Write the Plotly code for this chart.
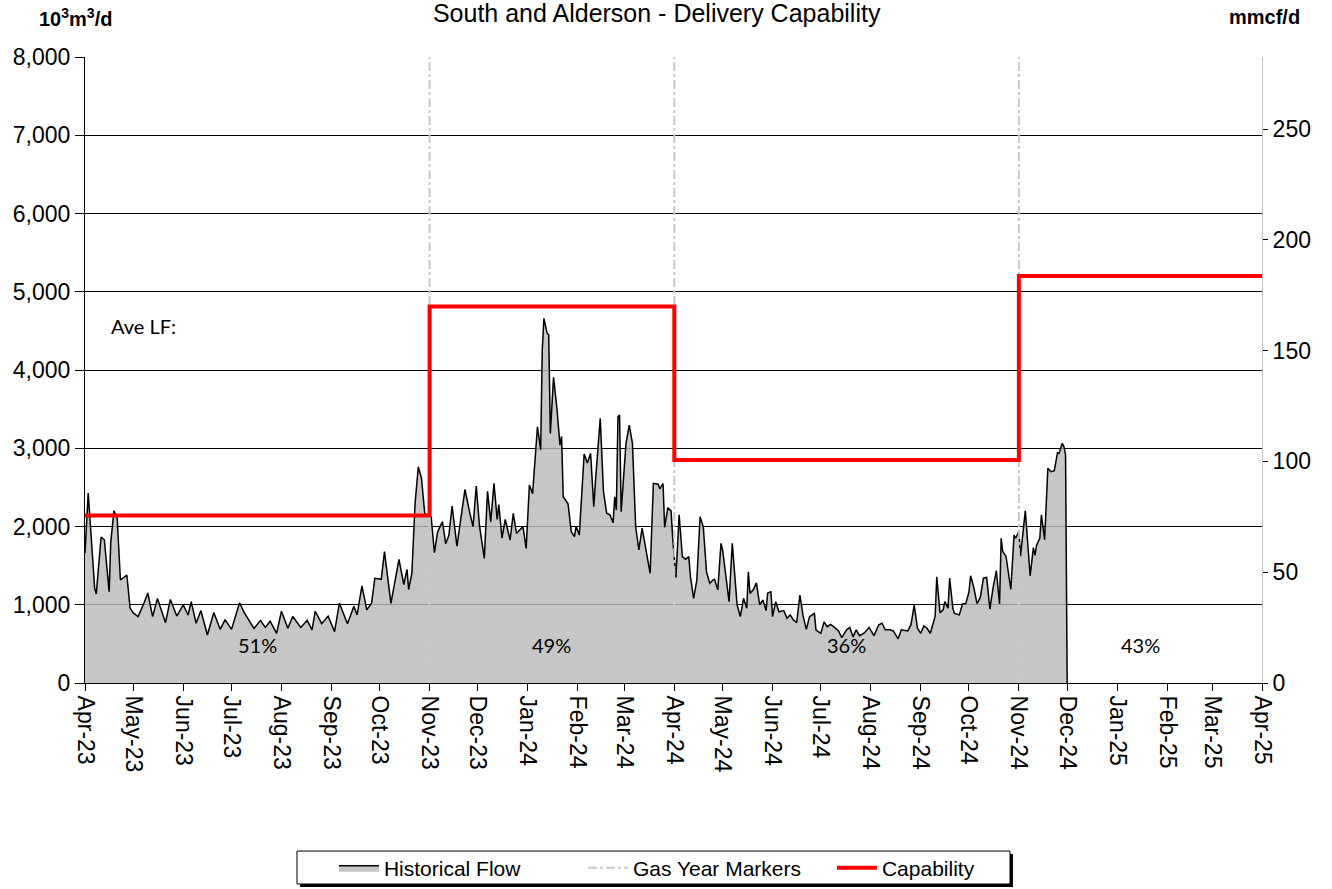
"""South and Alderson delivery capability chart."""

import pandas as pd
import plotly.graph_objects as go

START = pd.Timestamp("2023-04-01")
M3_PER_MMCF = 28.3168

# historical flow, 10^3 m3/d (days counted from 1 Apr 2023)
flow_day = [
    0, 2, 6, 7, 10, 12, 15, 16, 18, 20, 22, 26, 28, 30, 33, 35, 37, 39, 42, 45,
    50, 53, 57, 61, 64, 66, 69, 72, 76, 80, 84, 87, 91, 96, 99, 103, 105, 109, 112, 115,
    119, 122, 126, 129, 134, 138, 141, 143, 147, 151, 155, 158, 163, 167, 169, 172, 175, 178, 180, 184,
    186, 190, 195, 198, 200, 201, 203, 205, 207, 209, 211, 213, 215, 217, 219, 222, 224, 226, 228, 231,
    233, 236, 239, 241, 243, 245, 248, 250, 252, 254, 256, 257, 259, 261, 264, 266, 268, 270, 272, 274,
    276, 278, 281, 283, 284, 285, 287, 288, 289, 291, 293, 295, 296, 297, 300, 302, 304, 305, 307, 310,
    312, 314, 316, 317, 320, 322, 324, 326, 328, 329, 330, 331, 332, 333, 336, 338, 340, 342, 344, 346,
    349, 351, 353, 356, 357, 359, 360, 362, 364, 365, 367, 369, 371, 373, 375, 376, 378, 380, 382, 384,
    386, 388, 390, 391, 393, 395, 396, 400, 402, 405, 407, 409, 411, 412, 413, 415, 417, 419, 421, 423,
    424, 426, 427, 429, 431, 434, 436, 438, 440, 442, 444, 446, 448, 450, 453, 454, 457, 459, 461, 463,
    465, 468, 470, 473, 475, 477, 479, 481, 484, 487, 490, 493, 495, 497, 500, 502, 505, 507, 511, 513,
    515, 517, 519, 521, 523, 525, 528, 529, 531, 533, 534, 536, 537, 539, 540, 543, 545, 547, 549, 550,
    552, 554, 556, 558, 560, 562, 564, 566, 568, 569, 570, 572, 575, 577, 578, 580, 581, 584, 587, 589,
    590, 591, 593, 594, 596, 598, 600, 602, 604, 605, 607, 608, 609, 610,
]
flow_value = [
    1660, 2427, 1210, 1137, 1866, 1830, 1167, 1800, 2202, 2100, 1316, 1380, 958, 895, 848, 940, 1039, 1150, 848, 1080,
    771, 1067, 856, 1000, 869, 1039, 763, 925, 613, 900, 685, 810, 685, 1025, 895, 763, 698, 800, 710, 790,
    635, 917, 700, 850, 710, 800, 680, 917, 758, 855, 656, 1020, 758, 980, 870, 1240, 935, 1020, 1338, 1325,
    1678, 1018, 1580, 1257, 1453, 1195, 1400, 2296, 2764, 2615, 2168, 2146, 2125, 1665, 1930, 2062, 1780, 1887, 2262, 1750,
    2040, 2475, 2170, 2000, 2518, 2010, 1593, 2450, 2060, 2552, 2090, 2280, 1850, 2090, 1827, 2168, 1910, 1950, 2000, 1720,
    2530, 2420, 3275, 2980, 4255, 4660, 4470, 4450, 3190, 3906, 3530, 3040, 3150, 2380, 2290, 1934, 1870, 2000, 1890, 2926,
    2810, 2935, 2253, 2570, 3382, 2445, 2170, 2150, 2049, 2380, 2210, 3403, 3425, 2190, 3063, 3297, 3063, 2000, 1700, 1980,
    1660, 1402, 2552, 2540, 2480, 2550, 1990, 2240, 2200, 1850, 1350, 2150, 1615, 1580, 1615, 1360, 1082, 1316, 2125, 1995,
    1420, 1275, 1316, 1325, 1190, 1785, 1700, 1040, 1785, 1000, 848, 1082, 955, 1420, 1145, 1190, 1280, 1000, 1060, 925,
    1150, 1165, 848, 1040, 910, 925, 828, 870, 806, 770, 1124, 857, 686, 848, 890, 677, 635, 780, 720, 750,
    720, 665, 580, 680, 710, 590, 680, 605, 640, 710, 605, 745, 765, 680, 680, 665, 565, 680, 665, 745,
    995, 700, 635, 730, 700, 635, 850, 1358, 900, 935, 1040, 955, 1340, 955, 890, 870, 1010, 1015, 1160, 1370,
    1220, 1015, 1090, 1340, 1350, 945, 1220, 1435, 1010, 1850, 1680, 1620, 1195, 1890, 1850, 1935, 1620, 2202, 1370, 1730,
    1630, 1760, 1850, 2150, 1830, 2744, 2700, 2713, 2943, 2935, 3063, 3020, 2914, 0,
]

# delivery capability steps, 10^3 m3/d
cap_start = ["2023-04-01", "2023-11-01", "2024-04-01", "2024-11-01", "2025-04-01"]
cap_value = [2140, 4810, 2850, 5200, 5200]

gas_year_markers = ["2023-11-01", "2024-04-01", "2024-11-01"]

# average load factor per period
load_factor = ["51%", "49%", "36%", "43%"]

flow_dates = [START + pd.Timedelta(days=d) for d in flow_day]

fig = go.Figure()

fig.add_trace(
    go.Scatter(
        x=flow_dates,
        y=flow_value,
        mode="lines",
        name="Historical Flow",
        fill="tozeroy",
        fillcolor="rgba(185,185,185,0.82)",
        line=dict(color="black", width=1.5),
    )
)

mx, my = [], []
for d in gas_year_markers:
    mx += [d, d, None]
    my += [0, 8000, None]
fig.add_trace(
    go.Scatter(
        x=mx,
        y=my,
        mode="lines",
        name="Gas Year Markers",
        line=dict(color="#c8c8c8", width=2, dash="dashdot"),
    )
)

fig.add_trace(
    go.Scatter(
        x=cap_start,
        y=cap_value,
        mode="lines",
        name="Capability",
        line=dict(color="#ff0000", width=4, shape="hv"),
    )
)

# invisible trace to carry the mmcf/d axis
fig.add_trace(
    go.Scatter(
        x=[cap_start[0]],
        y=[0],
        yaxis="y2",
        mode="markers",
        marker=dict(opacity=0),
        showlegend=False,
        hoverinfo="skip",
    )
)

label_font = dict(family="Lato", size=20, color="black")
for i, lf in enumerate(load_factor):
    a = pd.Timestamp(cap_start[i])
    b = pd.Timestamp(cap_start[i + 1])
    fig.add_annotation(
        x=a + (b - a) / 2, y=490, text=lf, showarrow=False, font=label_font
    )
fig.add_annotation(
    x=0.02, xref="paper", y=4560, text="Ave LF:", showarrow=False,
    xanchor="left", font=label_font,
)

arial = "Liberation Sans, Arial, sans-serif"
fig.add_annotation(
    x=-0.0408, xref="paper", xanchor="left", y=1.0, yref="paper", yanchor="middle",
    yshift=40, text="<b>10<sup>3</sup>m<sup>3</sup>/d</b>",
    showarrow=False, font=dict(family=arial, size=20, color="black"),
)
fig.add_annotation(
    x=1.034, xref="paper", xanchor="right", y=1.0, yref="paper", yanchor="middle",
    yshift=40, text="<b>mmcf/d</b>",
    showarrow=False, font=dict(family=arial, size=20, color="black"),
)

# legend frame with drop shadow
fig.add_shape(
    type="rect", xref="paper", yref="paper",
    x0=0.1827, x1=0.7884, y0=-0.3259, y1=-0.2732,
    fillcolor="black", line=dict(width=0), layer="above",
)
fig.add_shape(
    type="rect", xref="paper", yref="paper",
    x0=0.1801, x1=0.7859, y0=-0.3211, y1=-0.2684,
    fillcolor="white", line=dict(color="black", width=1), layer="above",
)

fig.update_layout(
    width=1332,
    height=889,
    margin=dict(l=85, r=70, t=57, b=206),
    plot_bgcolor="white",
    paper_bgcolor="white",
    font=dict(family=arial, size=23, color="black"),
    title=dict(
        text="South and Alderson - Delivery Capability",
        x=0.493, xanchor="center", y=0.985, yanchor="middle",
        font=dict(family=arial, size=25),
    ),
    xaxis=dict(
        range=[cap_start[0], cap_start[-1]],
        tickformat="%b-%y",
        dtick="M1",
        tick0=cap_start[0],
        tickangle=90,
        ticks="outside",
        ticklen=7,
        tickcolor="black",
        showline=True,
        linecolor="black",
        linewidth=1,
        showgrid=False,
        zeroline=False,
        automargin=False,
    ),
    yaxis=dict(
        range=[0, 8000],
        dtick=1000,
        tickformat=",",
        ticks="outside",
        ticklen=9,
        tickcolor="black",
        showline=True,
        linecolor="black",
        showgrid=True,
        gridcolor="black",
        gridwidth=1,
        zeroline=False,
        automargin=False,
    ),
    yaxis2=dict(
        overlaying="y",
        side="right",
        range=[0, 8000 / M3_PER_MMCF],
        dtick=50,
        ticks="outside",
        ticklen=5,
        tickcolor="black",
        showline=True,
        linecolor="#c0c0c0",
        showgrid=False,
        zeroline=False,
        automargin=False,
    ),
    legend=dict(
        orientation="h",
        x=0.2115,
        xanchor="left",
        yref="container",
        y=1 - 868 / 889,
        yanchor="middle",
        bgcolor="rgba(0,0,0,0)",
        borderwidth=0,
        font=dict(family=arial, size=21),
        entrywidth=194,
        itemwidth=40,
    ),
    showlegend=True,
    hovermode="x",
)

fig.write_html(
    "out.html",
    config={"displayModeBar": False},
    post_script="document.body.style.margin = '0';",
)
